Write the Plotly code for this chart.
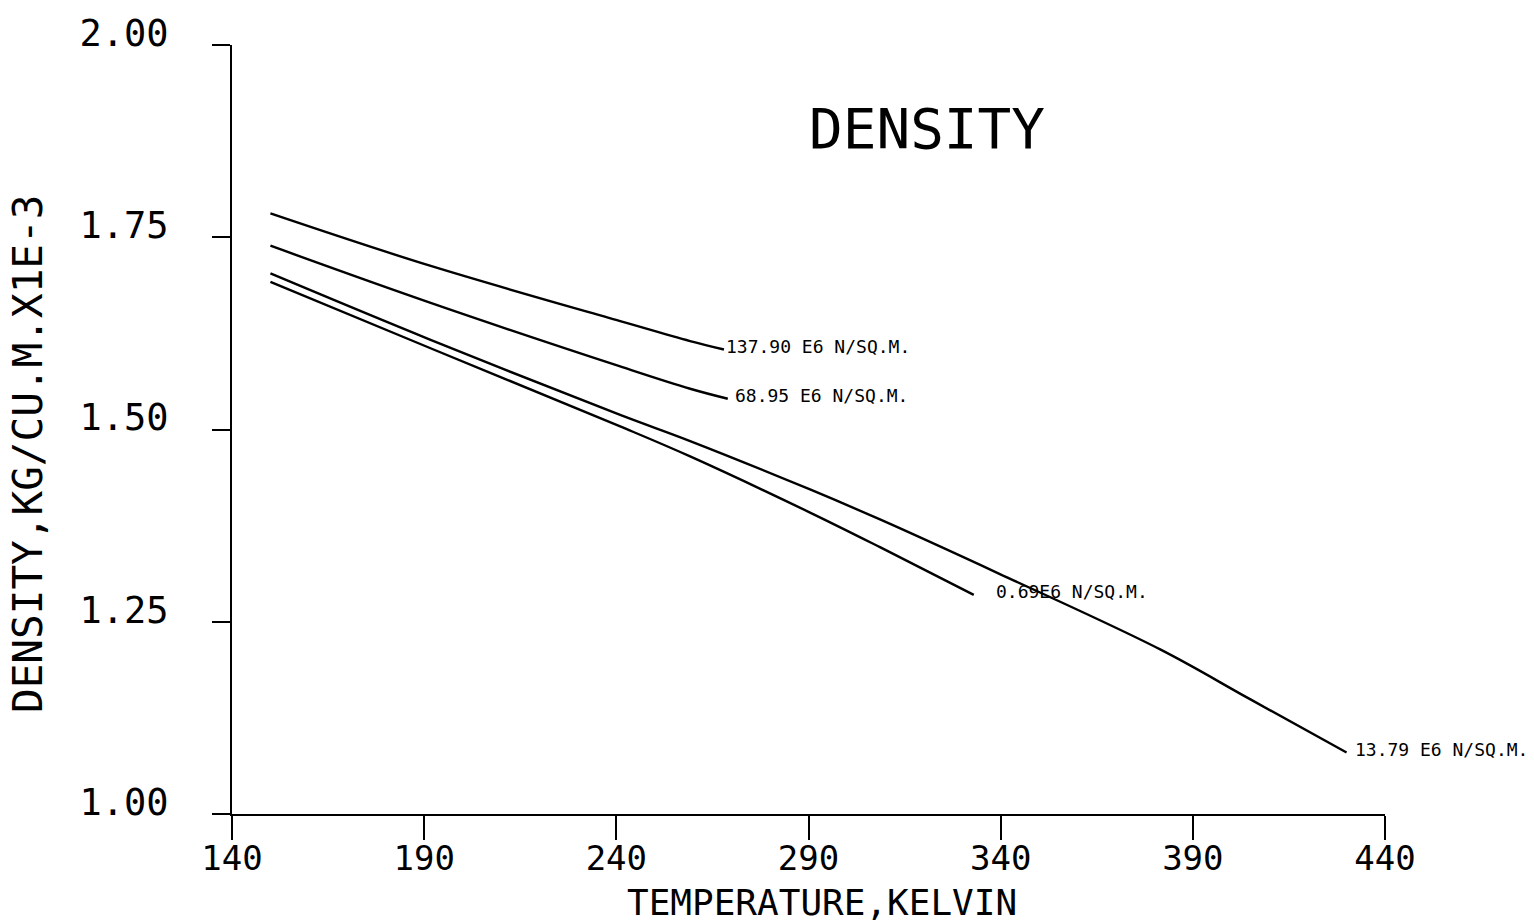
import plotly.graph_objects as go

# Temperature (K) and density (kg/m^3 x 1E-3)
t_137 = [150, 191.5, 241, 259.2, 268]
d_137 = [1.781, 1.713, 1.641, 1.615, 1.604]

t_6895 = [150, 191.5, 241, 259.2, 269]
d_6895 = [1.739, 1.665, 1.582, 1.553, 1.540]

t_1379 = [150, 191.5, 241, 259.2, 290.4, 308.6, 339.8, 381.5, 405, 430]
d_1379 = [1.703, 1.617, 1.519, 1.485, 1.422, 1.383, 1.312, 1.214, 1.149, 1.080]

t_069 = [150, 191.5, 241, 259.2, 290.4, 308.6, 333]
d_069 = [1.692, 1.606, 1.504, 1.465, 1.392, 1.347, 1.285]

series = [
    ("137.90 E6 N/SQ.M.", t_137, d_137, 0),
    ("68.95 E6 N/SQ.M.", t_6895, d_6895, 5),
    ("13.79 E6 N/SQ.M.", t_1379, d_1379, 6),
    ("0.69E6 N/SQ.M.", t_069, d_069, 20),
]

x_ticks = [140, 190, 240, 290, 340, 390, 440]
y_ticks = [1.00, 1.25, 1.50, 1.75, 2.00]
y_tick_text = ["1.00", "1.25", "1.50", "1.75", "2.00"]

MONO = "DejaVu Sans Mono"

fig = go.Figure()
for name, t, d, _ in series:
    fig.add_trace(go.Scatter(x=t, y=d, mode="lines", name=name,
                             line=dict(color="black", width=2.4, shape="spline", smoothing=1.0),
                             hoverinfo="skip"))

annotations = []
for name, t, d, xs in series:
    annotations.append(dict(x=t[-1], y=d[-1], xref="x", yref="y", text=name,
                            showarrow=False, xanchor="left", yanchor="middle",
                            xshift=xs, yshift=3,
                            font=dict(family=MONO, size=18, color="black")))

annotations.append(dict(x=(927 - 232) / 1153, y=(814 - 128) / 769, xref="paper", yref="paper",
                        text="DENSITY", showarrow=False, xanchor="center", yanchor="middle",
                        font=dict(family=MONO, size=56, color="black")))
annotations.append(dict(x=(822 - 232) / 1153, y=(814 - 902) / 769, xref="paper", yref="paper",
                        text="TEMPERATURE,KELVIN", showarrow=False, xanchor="center", yanchor="middle",
                        font=dict(family=MONO, size=36, color="black")))
annotations.append(dict(x=(28 - 232) / 1153, y=(814 - 454) / 769, xref="paper", yref="paper",
                        text="DENSITY,KG/CU.M.X1E-3", showarrow=False, textangle=-90,
                        xanchor="center", yanchor="middle",
                        font=dict(family=MONO, size=41, color="black")))

fig.update_layout(
    width=1534, height=923,
    margin=dict(l=232, r=149, t=45, b=109),
    paper_bgcolor="white", plot_bgcolor="white",
    showlegend=False,
    annotations=annotations,
    xaxis=dict(range=[140, 440], tickvals=x_ticks, ticktext=[str(v) for v in x_ticks],
               showgrid=False, zeroline=False, showline=True, linecolor="black", linewidth=2,
               ticks="outside", ticklen=24, tickwidth=2, tickcolor="black",
               tickfont=dict(family=MONO, size=34, color="black"), ticklabelstandoff=-11),
    yaxis=dict(range=[1, 2], tickvals=y_ticks, ticktext=y_tick_text,
               showgrid=False, zeroline=False, showline=True, linecolor="black", linewidth=2,
               ticks="outside", ticklen=18, tickwidth=2, tickcolor="black",
               tickfont=dict(family=MONO, size=37, color="black"),
               ticklabelstandoff=36, ticklabelshift=-12),
)

fig.write_html("out.html")
